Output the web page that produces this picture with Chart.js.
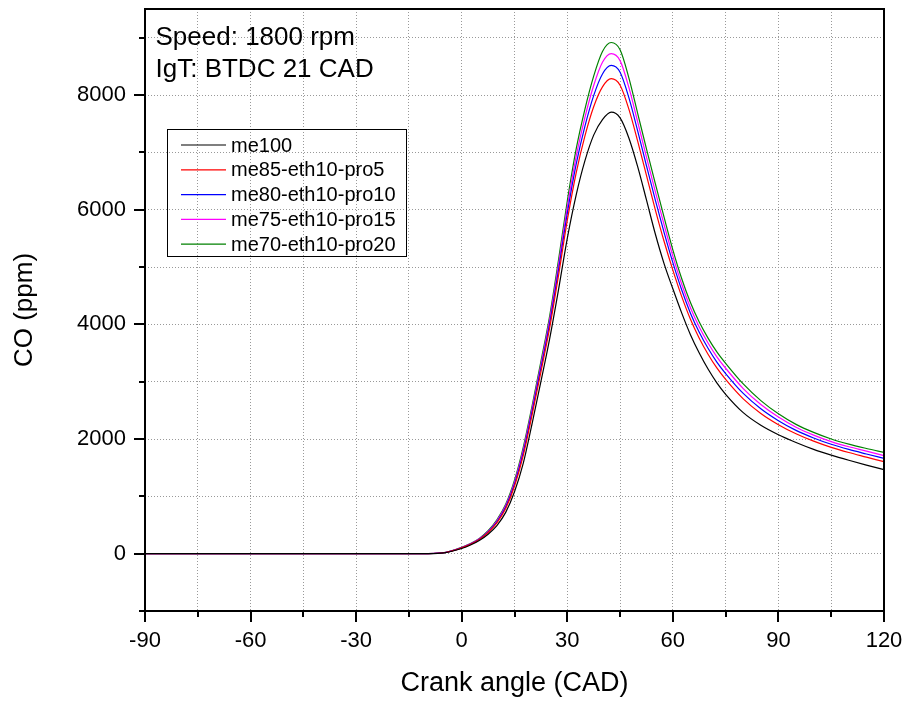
<!DOCTYPE html>
<html>
<head>
<meta charset="utf-8">
<script src="https://cdn.jsdelivr.net/npm/chart.js@4.4.1/dist/chart.umd.min.js"></script>
<style>
    html, body { margin: 0; padding: 0; background: #fff; }
</style>
</head>
<body>
<canvas id="chart" width="907" height="701"></canvas>
<script>
// crank angle (CAD)
const angles = [-90, -60, -30, -20, -10, -5,
    0, 2.5, 5, 7.5, 10, 12.5, 15, 17.5,
    20, 22.5, 25, 27.5, 30, 32.5, 35, 37.5, 40, 42.5,
    45, 47.5, 50, 52.5, 55, 57.5, 60, 62.5, 65, 67.5, 70, 72.5, 75,
    80, 85, 90, 95, 100, 105, 110, 115, 120];

// CO (ppm)
const me100 = [0, 0, 0, 0, 2, 15,
    90, 150, 230, 340, 490, 720, 1080, 1580,
    2270, 3000, 3750, 4600, 5500, 6250, 6850, 7300, 7570, 7700,
    7600, 7250, 6750, 6170, 5580, 5060, 4620, 4200, 3820, 3500, 3220, 2980, 2780,
    2460, 2240, 2075, 1940, 1820, 1720, 1630, 1545, 1465];
const me85 = [0, 0, 0, 0, 2, 16,
    100, 162, 247, 369, 538, 787, 1176, 1714,
    2419, 3168, 3942, 4850, 5812, 6634, 7282, 7794, 8141, 8284,
    8171, 7754, 7196, 6597, 6002, 5449, 4946, 4488, 4089, 3759, 3479, 3239, 3039,
    2700, 2446, 2250, 2091, 1962, 1854, 1764, 1684, 1604];
const me80 = [0, 0, 0, 0, 2, 16,
    103, 167, 253, 380, 557, 814, 1214, 1768,
    2478, 3235, 4018, 4948, 5936, 6786, 7453, 7990, 8367, 8515,
    8397, 7954, 7373, 6766, 6170, 5603, 5076, 4602, 4195, 3862, 3582, 3342, 3142,
    2795, 2528, 2320, 2151, 2018, 1908, 1818, 1739, 1662];
const me75 = [0, 0, 0, 0, 2, 17,
    107, 171, 259, 390, 574, 838, 1248, 1815,
    2530, 3294, 4086, 5037, 6046, 6922, 7606, 8165, 8570, 8721,
    8600, 8132, 7531, 6918, 6319, 5740, 5191, 4704, 4290, 3954, 3674, 3434, 3234,
    2880, 2601, 2382, 2205, 2068, 1955, 1865, 1789, 1709];
const me70 = [0, 0, 0, 0, 2, 17,
    110, 175, 265, 400, 590, 860, 1280, 1860,
    2580, 3350, 4150, 5120, 6150, 7050, 7750, 8330, 8760, 8916,
    8790, 8300, 7680, 7060, 6460, 5870, 5300, 4800, 4380, 4040, 3760, 3520, 3320,
    2960, 2670, 2440, 2255, 2115, 2000, 1910, 1835, 1766];

const seriesNames = ['me100', 'me85-eth10-pro5', 'me80-eth10-pro10', 'me75-eth10-pro15', 'me70-eth10-pro20'];
const seriesValues = [me100, me85, me80, me75, me70];
const seriesColors = ['#000000', '#ff0000', '#0000ff', '#ff00ff', '#008000'];

// axis ticks (every tick gets a grid line, labelled ones get a long tick)
const xTicks = [-90, -75, -60, -45, -30, -15, 0, 15, 30, 45, 60, 75, 90, 105, 120];
const xLabels = [-90, -60, -30, 0, 30, 60, 90, 120];
const yTicks = [-1000, 0, 1000, 2000, 3000, 4000, 5000, 6000, 7000, 8000, 9000];
const yLabels = [0, 2000, 4000, 6000, 8000];

const noteLines = ['Speed: 1800 rpm', 'IgT: BTDC 21 CAD'];

const FONT = "'Liberation Sans', Arial, sans-serif";

const datasets = seriesValues.map((vals, i) => ({
    label: seriesNames[i],
    data: vals.map((v, j) => ({ x: angles[j], y: v })),
    borderColor: seriesColors[i],
    backgroundColor: seriesColors[i],
    borderWidth: 1.2,
    pointRadius: 0,
    cubicInterpolationMode: 'monotone'
}));

// no extra label padding, the plot box is fixed by the layout padding
const fixSize = size => s => {
    if (s.isHorizontal()) s.height = size; else s.width = size;
    s.paddingTop = s.paddingBottom = s.paddingLeft = s.paddingRight = 0;
};

// frame, outward ticks, note text and legend box
const decor = {
    id: 'decor',
    afterDraw(chart) {
        const ctx = chart.ctx;
        const a = chart.chartArea;
        ctx.save();
        ctx.strokeStyle = '#000';
        ctx.lineWidth = 2;
        ctx.strokeRect(a.left, a.top, a.right - a.left, a.bottom - a.top);

        const xs = chart.scales.x;
        xs.ticks.forEach(t => {
            const px = Math.round(xs.getPixelForValue(t.value));
            const len = xLabels.includes(t.value) ? 11 : 6;
            ctx.beginPath();
            ctx.moveTo(px, a.bottom);
            ctx.lineTo(px, a.bottom + len);
            ctx.stroke();
        });
        const ys = chart.scales.y;
        ys.ticks.forEach(t => {
            const py = Math.round(ys.getPixelForValue(t.value));
            const len = yLabels.includes(t.value) ? 11 : 6;
            ctx.beginPath();
            ctx.moveTo(a.left, py);
            ctx.lineTo(a.left - len, py);
            ctx.stroke();
        });

        ctx.fillStyle = '#000';
        ctx.font = '26px ' + FONT;
        ctx.textBaseline = 'alphabetic';
        ctx.textAlign = 'left';
        noteLines.forEach((s, i) => ctx.fillText(s, 155.5, 45 + i * 32));

        // legend
        ctx.lineWidth = 1;
        ctx.strokeRect(167.5, 129.5, 239, 127);
        ctx.font = '20px ' + FONT;
        ctx.textBaseline = 'middle';
        chart.data.datasets.forEach((ds, i) => {
            const y = 145 + i * 24.8;
            ctx.strokeStyle = ds.borderColor;
            ctx.lineWidth = 1.2;
            ctx.beginPath();
            ctx.moveTo(181, y);
            ctx.lineTo(226, y);
            ctx.stroke();
            ctx.fillStyle = '#000';
            ctx.fillText(ds.label, 231, y + 1);
        });
        ctx.restore();
    }
};

const ctx = document.getElementById('chart').getContext('2d');

const chart = new Chart(ctx, {
    type: 'line',
    data: { datasets: datasets },
    options: {
        responsive: false,
        animation: false,
        devicePixelRatio: 1,
        layout: { padding: { left: 0, right: 23, top: 9, bottom: 0 } },
        plugins: {
            legend: { display: false },
            tooltip: { enabled: false }
        },
        scales: {
            x: {
                type: 'linear',
                min: -90,
                max: 120,
                afterBuildTicks: s => { s.ticks = xTicks.map(v => ({ value: v })); },
                afterFit: fixSize(90),
                ticks: {
                    autoSkip: false,
                    maxRotation: 0,
                    padding: 17,
                    color: '#000',
                    font: { family: FONT, size: 22 },
                    callback: v => (xLabels.includes(v) ? String(v) : '')
                },
                grid: { color: '#999', drawTicks: false },
                border: { display: false, dash: [1, 2] },
                title: {
                    display: true,
                    text: 'Crank angle (CAD)',
                    color: '#000',
                    font: { family: FONT, size: 27 },
                    padding: { top: 0, bottom: 1 }
                }
            },
            y: {
                type: 'linear',
                min: -1000,
                max: 9500,
                afterBuildTicks: s => { s.ticks = yTicks.map(v => ({ value: v })); },
                afterFit: fixSize(145),
                ticks: {
                    autoSkip: false,
                    padding: 19,
                    color: '#000',
                    font: { family: FONT, size: 22 },
                    callback: v => (yLabels.includes(v) ? String(v) : '')
                },
                grid: { color: '#999', drawTicks: false },
                border: { display: false, dash: [1, 2] },
                title: {
                    display: true,
                    text: 'CO (ppm)',
                    color: '#000',
                    font: { family: FONT, size: 26 },
                    padding: { top: 9, bottom: 0 }
                }
            }
        }
    },
    plugins: [decor]
});
</script>
</body>
</html>
